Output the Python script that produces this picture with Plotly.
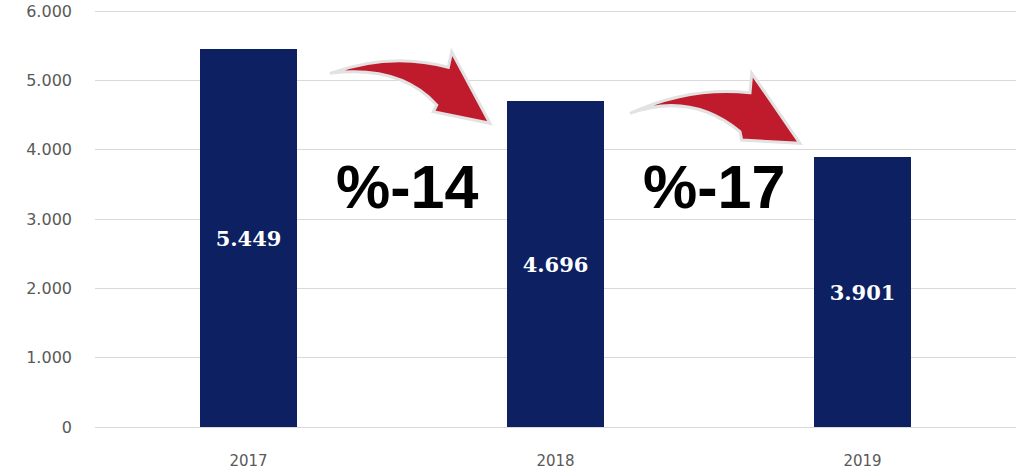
import plotly.graph_objects as go

years = ["2017", "2018", "2019"]
values = [5449, 4696, 3901]
changes = ["%-14", "%-17"]
y_ticks = [0, 1000, 2000, 3000, 4000, 5000, 6000]

W, H = 1021, 473
M_L, M_R, M_T, M_B = 95, 5, 10, 46
Y_MAX = 6015
X_MIN, X_MAX = -0.5, 2.5


def to_data(px, py):
    """Convert page pixel position (decoration only) to data coordinates."""
    pw = W - M_L - M_R
    ph = H - M_T - M_B
    x = X_MIN + (px - M_L) / pw * (X_MAX - X_MIN)
    y = (H - M_B - py) / ph * Y_MAX
    return x, y


def arrow_path(tail, top_ctrl, top_join, barb, tip, lbarb, inner, low_ctrl):
    p = lambda pt: "%.4f,%.2f" % to_data(*pt)
    return ("M" + p(tail) + " Q" + p(top_ctrl) + " " + p(top_join) +
            " L" + p(barb) + " L" + p(tip) + " L" + p(lbarb) + " L" + p(inner) +
            " Q" + p(low_ctrl) + " " + p(tail) + " Z")


x_pos = list(range(len(years)))

fig = go.Figure()
fig.add_trace(go.Bar(
    x=x_pos, y=values, width=0.313,
    marker=dict(color="#0c2062", line=dict(width=0)),
    texttemplate="%{y:,}", textposition="inside", insidetextanchor="middle",
    textfont=dict(family="DejaVu Serif", size=21, color="white", weight="bold"),
    textangle=0, hoverinfo="skip",
))

arrows = [
    arrow_path((330, 73.3), (391, 51.5), (448.3, 67.3), (451.7, 51.7),
               (490, 123.3), (433.3, 111.7), (436.7, 105), (400.6, 64.9)),
    arrow_path((630, 113.3), (690, 86), (750, 92.7), (751.7, 73.3),
               (800, 143.3), (741.7, 140), (740, 131.7), (691, 91.5)),
]
for path in arrows:
    fig.add_shape(type="path", path=path, xref="x", yref="y",
                  fillcolor="#bf1b2c", line=dict(color="#e2e2e2", width=3),
                  layer="above")

for i, txt in enumerate(changes):
    x = (x_pos[i] + x_pos[i + 1]) / 2 + 0.015
    fig.add_annotation(x=x, y=3460, xref="x", yref="y", text=txt, showarrow=False,
                       font=dict(family="Liberation Sans", size=61, color="black",
                                 weight="bold"))

fig.update_layout(
    width=W, height=H,
    margin=dict(l=M_L, r=M_R, t=M_T, b=M_B, autoexpand=False),
    plot_bgcolor="white", paper_bgcolor="white",
    separators=",.",
    showlegend=False,
    bargap=0,
)
fig.update_xaxes(
    range=[X_MIN, X_MAX], tickvals=x_pos, ticktext=years, automargin=False,
    showgrid=False, zeroline=False, showline=True, linecolor="#d9d9d9", linewidth=1,
    ticks="", tickfont=dict(family="DejaVu Sans", size=15, color="#595959"),
    ticklabelstandoff=20,
)
fig.update_yaxes(
    range=[0, Y_MAX], tickvals=y_ticks, tickformat=",", automargin=False,
    showgrid=True, gridcolor="#d9d9d9", gridwidth=1, zeroline=False,
    showline=False, ticks="", ticklabeloverflow="allow",
    tickfont=dict(family="DejaVu Sans", size=16, color="#595959"),
    ticklabelstandoff=22,
)

fig.write_html("out.html", config={"displayModeBar": False},
               post_script="document.body.style.margin='0px';")
